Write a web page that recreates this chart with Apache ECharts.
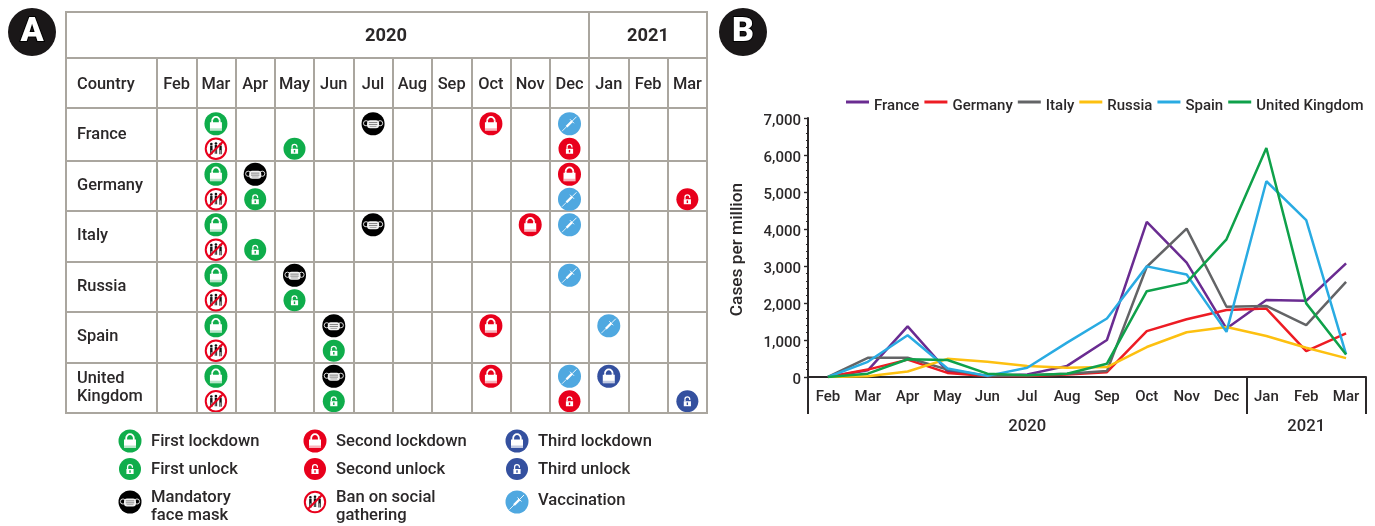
<!DOCTYPE html>
<html>
<head>
<meta charset="utf-8">
<style>
  html, body { margin: 0; padding: 0; background: #fff; }
  #chart { width: 1375px; height: 526px; }
</style>
<script src="https://cdn.jsdelivr.net/npm/echarts@6/dist/echarts.min.js"></script>
</head>
<body>
<div id="chart"></div>
<script>
// data
const months = ['Feb', 'Mar', 'Apr', 'May', 'Jun', 'Jul', 'Aug', 'Sep', 'Oct', 'Nov', 'Dec', 'Jan', 'Feb', 'Mar'];
const countries = ['France', 'Germany', 'Italy', 'Russia', 'Spain', 'United\nKingdom'];
const yearLabels = ['', '', '', '', '', '2020', '', '', '', '', '', '', '2021', ''];
const yTicks = { min: 0, max: 7000, interval: 1000 };

const seriesNames = ['France', 'Germany', 'Italy', 'Russia', 'Spain', 'United Kingdom'];
const france = [0, 180, 1370, 150, 30, 70, 300, 1000, 4190, 3090, 1310, 2080, 2060, 3070];
const germany = [0, 200, 470, 110, 30, 30, 70, 130, 1240, 1560, 1810, 1850, 700, 1180];
const italy = [0, 520, 520, 200, 30, 50, 90, 160, 2980, 4010, 1900, 1920, 1400, 2570];
const russia = [0, 20, 150, 490, 410, 300, 250, 270, 810, 1210, 1350, 1110, 790, 510];
const spain = [0, 410, 1130, 230, 30, 250, 930, 1580, 2990, 2770, 1220, 5290, 4240, 610];
const uk = [0, 90, 480, 460, 90, 50, 90, 360, 2320, 2550, 3720, 6190, 1990, 610];
const lineValues = [france, germany, italy, russia, spain, uk];

// [month index, country index, kind]
const events = [
    [1, 0, 'lock1'], [1, 0, 'ban'], [3, 0, 'unlock1'], [5, 0, 'mask'], [8, 0, 'lock2'], [10, 0, 'vaccine'], [10, 0, 'unlock2'],
    [1, 1, 'lock1'], [1, 1, 'ban'], [2, 1, 'mask'], [2, 1, 'unlock1'], [10, 1, 'lock2'], [10, 1, 'vaccine'], [13, 1, 'unlock2'],
    [1, 2, 'lock1'], [1, 2, 'ban'], [2, 2, 'unlock1'], [5, 2, 'mask'], [9, 2, 'lock2'], [10, 2, 'vaccine'],
    [1, 3, 'lock1'], [1, 3, 'ban'], [3, 3, 'mask'], [3, 3, 'unlock1'], [10, 3, 'vaccine'],
    [1, 4, 'lock1'], [1, 4, 'ban'], [4, 4, 'mask'], [4, 4, 'unlock1'], [8, 4, 'lock2'], [11, 4, 'vaccine'],
    [1, 5, 'lock1'], [1, 5, 'ban'], [4, 5, 'mask'], [4, 5, 'unlock1'], [8, 5, 'lock2'], [10, 5, 'vaccine'], [10, 5, 'unlock2'], [11, 5, 'lock3'], [13, 5, 'unlock3']
];

const legendColumns = [
    [['lock1', 'First lockdown'], ['unlock1', 'First unlock'], ['mask', 'Mandatory\nface mask']],
    [['lock2', 'Second lockdown'], ['unlock2', 'Second unlock'], ['ban', 'Ban on social\ngathering']],
    [['lock3', 'Third lockdown'], ['unlock3', 'Third unlock'], ['vaccine', 'Vaccination']]
];

// styles
const FONT = 'Roboto, sans-serif';
const INK = '#2b2829';
const RULE = '#aaa69f';
const lineColors = ['#6a2c91', '#ed1c24', '#636466', '#fdc010', '#29abe2', '#0fa14a'];
const kindColors = { 1: '#0fad4b', 2: '#e8001c', 3: '#34509f' };

// icons, drawn around 0,0
function lockIcon(color) {
    return [
        { type: 'circle', shape: { cx: 0, cy: 0, r: 11.5 }, style: { fill: color } },
        { type: 'arc', shape: { cx: 0, cy: -3, r: 3.8, startAngle: Math.PI, endAngle: 0, clockwise: true }, style: { stroke: '#fff', lineWidth: 1.8, fill: null } },
        { type: 'line', shape: { x1: -3.8, y1: -3, x2: -3.8, y2: 0 }, style: { stroke: '#fff', lineWidth: 1.8 } },
        { type: 'line', shape: { x1: 3.8, y1: -3, x2: 3.8, y2: 0 }, style: { stroke: '#fff', lineWidth: 1.8 } },
        { type: 'rect', shape: { x: -6, y: -1.5, width: 12, height: 8.5 }, style: { fill: '#fff' } },
        { type: 'rect', shape: { x: -6, y: 4.5, width: 12, height: 2.5 }, style: { fill: color, opacity: 0.3 } }
    ];
}

function unlockIcon(color) {
    return [
        { type: 'circle', shape: { cx: 0, cy: 0, r: 11 }, style: { fill: color } },
        { type: 'arc', shape: { cx: 0, cy: -2, r: 2.4, startAngle: Math.PI, endAngle: 0.3, clockwise: true }, style: { stroke: '#fff', lineWidth: 1.3, fill: null } },
        { type: 'line', shape: { x1: -2.4, y1: -2, x2: -2.4, y2: 0 }, style: { stroke: '#fff', lineWidth: 1.3 } },
        { type: 'rect', shape: { x: -3.6, y: 0, width: 7.2, height: 5 }, style: { fill: '#fff' } },
        { type: 'rect', shape: { x: -0.7, y: 1.2, width: 1.4, height: 2.6 }, style: { fill: color } }
    ];
}

function maskIcon() {
    return [
        { type: 'circle', shape: { cx: 0, cy: 0, r: 11.5 }, style: { fill: '#000' } },
        { type: 'circle', shape: { cx: -7, cy: -0.5, r: 2.6 }, style: { fill: null, stroke: '#ddd', lineWidth: 1 } },
        { type: 'circle', shape: { cx: 7, cy: -0.5, r: 2.6 }, style: { fill: null, stroke: '#ddd', lineWidth: 1 } },
        { type: 'rect', shape: { x: -6, y: -3.5, width: 12, height: 8, r: 3 }, style: { fill: '#f2f2f2' } },
        { type: 'rect', shape: { x: -4.2, y: -1.6, width: 8.4, height: 0.9 }, style: { fill: '#777' } },
        { type: 'rect', shape: { x: -4.2, y: 0.4, width: 8.4, height: 0.9 }, style: { fill: '#777' } },
        { type: 'rect', shape: { x: -3.4, y: 2.3, width: 6.8, height: 0.8 }, style: { fill: '#999' } }
    ];
}

function person(x, y) {
    return [
        { type: 'circle', shape: { cx: x, cy: y - 4.8, r: 1.3 }, style: { fill: '#111' } },
        { type: 'rect', shape: { x: x - 1.2, y: y - 3.2, width: 2.4, height: 4.5 }, style: { fill: '#111' } },
        { type: 'line', shape: { x1: x - 0.7, y1: y + 1, x2: x - 0.7, y2: y + 5.5 }, style: { stroke: '#111', lineWidth: 0.9 } },
        { type: 'line', shape: { x1: x + 0.7, y1: y + 1, x2: x + 0.7, y2: y + 5.5 }, style: { stroke: '#111', lineWidth: 0.9 } }
    ];
}

function banIcon() {
    return [
        { type: 'circle', shape: { cx: 0, cy: 0, r: 10.2 }, style: { fill: '#fff', stroke: '#e8001c', lineWidth: 2 } },
        ...person(-4.6, 0), ...person(0, -0.5), ...person(4.6, 0),
        { type: 'line', shape: { x1: -7.2, y1: 7.2, x2: 7.2, y2: -7.2 }, style: { stroke: '#e8001c', lineWidth: 2 } }
    ];
}

function vaccineIcon() {
    return [
        { type: 'circle', shape: { cx: 0, cy: 0, r: 11.5 }, style: { fill: '#4fa8e0' } },
        { type: 'line', shape: { x1: -7.5, y1: 7.5, x2: -3, y2: 3 }, style: { stroke: '#fff', lineWidth: 0.8 } },
        { type: 'line', shape: { x1: -3, y1: 3, x2: 2.5, y2: -2.5 }, style: { stroke: '#fff', lineWidth: 2.4 } },
        { type: 'line', shape: { x1: 2.5, y1: -2.5, x2: 7, y2: -7 }, style: { stroke: '#fff', lineWidth: 0.9 } },
        { type: 'line', shape: { x1: 0.5, y1: -4.5, x2: 4.5, y2: -0.5 }, style: { stroke: '#fff', lineWidth: 0.9 } }
    ];
}

function iconFor(kind) {
    if (kind === 'mask') return maskIcon();
    if (kind === 'ban') return banIcon();
    if (kind === 'vaccine') return vaccineIcon();
    const color = kindColors[kind.slice(-1)];
    return kind.startsWith('lock') ? lockIcon(color) : unlockIcon(color);
}

// upper or lower half of a table cell
function isLower(item) {
    const kind = item[2];
    if (kind === 'ban' || kind.startsWith('unlock')) return true;
    if (kind === 'vaccine') {
        return events.some(e => e[0] === item[0] && e[1] === item[1] && e[2].startsWith('lock'));
    }
    return false;
}

function renderEvent(params, api) {
    const item = events[params.dataIndex];
    const point = api.coord([api.value(0), api.value(1)]);
    return {
        type: 'group',
        x: point[0],
        y: point[1] + (isLower(item) ? 13.5 : -11.5),
        children: iconFor(item[2])
    };
}

function label(text, x, y, size, extra) {
    return {
        type: 'text',
        x: x,
        y: y + 1.5,
        z: 20,
        style: Object.assign({
            text: text,
            fill: INK,
            fontFamily: FONT,
            fontWeight: 500,
            fontSize: size,
            lineHeight: 18,
            align: 'left',
            verticalAlign: 'middle'
        }, extra || {})
    };
}

function badge(letter, x, y) {
    return {
        type: 'group',
        x: x,
        y: y,
        z: 20,
        children: [
            { type: 'circle', shape: { cx: 0, cy: 0, r: 24 }, style: { fill: '#1a1718' } },
            {
                type: 'text',
                style: {
                    text: letter, fill: '#fff', stroke: '#000', lineWidth: 2,
                    fontFamily: FONT, fontWeight: 900, fontSize: 34,
                    align: 'center', verticalAlign: 'middle'
                }
            }
        ]
    };
}

function legendGraphics() {
    const iconX = [130, 315, 517];
    const iconY = [441, 469, 502];
    const out = [];
    legendColumns.forEach((column, c) => {
        column.forEach((entry, r) => {
            out.push({ type: 'group', x: iconX[c], y: iconY[r], z: 20, children: iconFor(entry[0]) });
            const textY = entry[1].includes('\n') ? 505 : (r === 2 ? 499 : 440 + r * 28);
            out.push(label(entry[1], iconX[c] + 21, textY, 16.6));
        });
    });
    return out;
}

function frameLine(x1, y1, x2, y2) {
    return { type: 'line', z: 5, shape: { x1, y1, x2, y2 }, style: { stroke: RULE, lineWidth: 2 } };
}

const chart = echarts.init(document.getElementById('chart'), null, { renderer: 'canvas' });

const option = {
    animation: false,
    textStyle: { fontFamily: FONT },
    grid: [
        { left: 157, top: 110, width: 550, height: 303 },
        { left: 808, top: 118, width: 558, height: 259 }
    ],
    xAxis: [
        {
            gridIndex: 0,
            type: 'category',
            position: 'top',
            data: months,
            axisLine: { show: false },
            axisTick: { show: true, length: 52, lineStyle: { color: RULE, width: 2 } },
            axisLabel: { color: INK, fontSize: 16.4, fontWeight: 500, fontFamily: FONT, margin: 17, interval: 0 },
            splitLine: { show: true, lineStyle: { color: RULE, width: 2 } }
        },
        {
            gridIndex: 1,
            type: 'category',
            data: months,
            axisLine: { onZero: false, lineStyle: { color: INK, width: 2 } },
            axisTick: { show: false },
            axisLabel: { color: INK, fontSize: 15, fontWeight: 500, fontFamily: FONT, margin: 13, interval: 0 }
        },
        {
            gridIndex: 1,
            type: 'category',
            position: 'bottom',
            data: yearLabels,
            axisLine: { show: false },
            axisTick: {
                show: true,
                length: 37,
                interval: idx => idx === 0 || idx === 11,
                lineStyle: { color: INK, width: 2 }
            },
            axisLabel: { color: INK, fontSize: 16.6, fontWeight: 500, fontFamily: FONT, margin: 41, interval: 0 }
        }
    ],
    yAxis: [
        {
            gridIndex: 0,
            type: 'category',
            inverse: true,
            data: countries,
            axisLine: { lineStyle: { color: RULE, width: 2 } },
            axisTick: { show: true, length: 91, interval: idx => idx > 0, lineStyle: { color: RULE, width: 2 } },
            axisLabel: { color: INK, fontSize: 16.4, fontWeight: 500, fontFamily: FONT, align: 'left', margin: 80, lineHeight: 18, padding: [2, 0, 0, 0] },
            splitLine: { show: true, interval: idx => idx > 0, lineStyle: { color: RULE, width: 2 } }
        },
        {
            gridIndex: 1,
            type: 'value',
            min: yTicks.min,
            max: yTicks.max,
            interval: yTicks.interval,
            name: 'Cases per million',
            nameLocation: 'middle',
            nameGap: 62,
            nameTextStyle: { color: INK, fontSize: 17.3, fontWeight: 500, fontFamily: FONT, padding: [0, 4, 0, 0] },
            axisLine: { show: true, lineStyle: { color: INK, width: 2 } },
            axisTick: { show: true, length: 4, lineStyle: { color: INK, width: 1.4 } },
            minorTick: { show: true, splitNumber: 5, length: 2, lineStyle: { color: INK, width: 1.2 } },
            axisLabel: {
                margin: 7,
                formatter: v => '{v|' + v.toLocaleString('en-US') + '}',
                rich: { v: { color: INK, fontSize: 15, fontWeight: 500, fontFamily: FONT, lineHeight: 22, verticalAlign: 'bottom' } }
            },
            splitLine: { show: false }
        }
    ],
    legend: {
        data: seriesNames,
        left: 846,
        top: 99,
        width: 529,
        padding: 0,
        itemWidth: 23,
        itemHeight: 3,
        itemGap: 5,
        icon: 'rect',
        formatter: name => '{t|' + name + '}',
        textStyle: {
            rich: { t: { color: INK, fontSize: 15, fontWeight: 500, fontFamily: FONT, lineHeight: 24, verticalAlign: 'bottom' } }
        }
    },
    series: [
        {
            type: 'custom',
            name: 'Events',
            xAxisIndex: 0,
            yAxisIndex: 0,
            clip: false,
            renderItem: renderEvent,
            encode: { x: 0, y: 1 },
            data: events.map(e => [e[0], e[1]])
        },
        ...seriesNames.map((name, i) => ({
            type: 'line',
            name: name,
            xAxisIndex: 1,
            yAxisIndex: 1,
            data: lineValues[i],
            symbol: 'none',
            lineStyle: { color: lineColors[i], width: 2.5 },
            itemStyle: { color: lineColors[i] }
        }))
    ],
    graphic: { elements: [
        badge('A', 32, 32),
        badge('B', 743, 32),
        { type: 'rect', z: 5, shape: { x: 66, y: 12, width: 641, height: 401 }, style: { fill: null, stroke: RULE, lineWidth: 2 } },
        frameLine(66, 58, 707, 58),
        frameLine(589, 12, 589, 58),
        frameLine(66, 108, 707, 108),
        label('2020', 386, 35, 18.3, { fontWeight: 'bold', align: 'center' }),
        label('2021', 648, 35, 18.3, { fontWeight: 'bold', align: 'center' }),
        label('Country', 77, 83, 16.4),
        ...legendGraphics()
    ] }
};

chart.setOption(option);

window.addEventListener('resize', () => chart.resize());
</script>
</body>
</html>
